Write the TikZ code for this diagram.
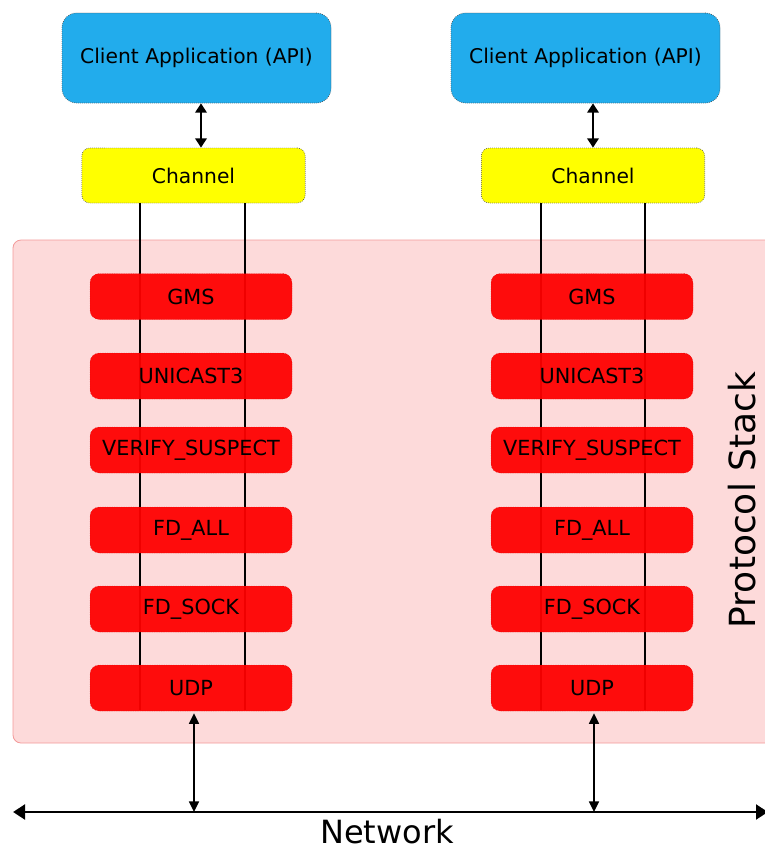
\documentclass[tikz,border=0pt]{standalone}
\usepackage{fontspec}
\setmainfont{DejaVu Sans}
\usetikzlibrary{arrows.meta}
\definecolor{apiblue}{HTML}{22ACEC}
\definecolor{chanyellow}{HTML}{FFFF00}
\definecolor{layerred}{HTML}{FF0000}
\definecolor{stackpink}{HTML}{FDDADA}
\definecolor{stackedge}{HTML}{F39A9A}
\definecolor{dotedge}{HTML}{4A4A4A}
\begin{document}
\begin{tikzpicture}[x=0.75pt,y=-0.75pt,
  apibox/.style={draw=dotedge,densely dotted,line width=0.5pt,fill=apiblue,
    rounded corners=11pt,minimum width=201.75pt,minimum height=67.5pt,
    font=\fontsize{15.2}{18}\selectfont,inner sep=0pt},
  chanbox/.style={draw=dotedge,densely dotted,line width=0.5pt,fill=chanyellow,
    rounded corners=6pt,minimum width=167.5pt,minimum height=41.25pt,
    font=\fontsize{15.2}{18}\selectfont,inner sep=0pt},
  layerbox/.style={draw=layerred!80!black,densely dotted,line width=0.3pt,
    fill=layerred,fill opacity=0.94,text opacity=1,
    rounded corners=7pt,minimum width=151.5pt,minimum height=34.5pt,
    font=\fontsize{15.6}{18}\selectfont,inner sep=0pt},
  wire/.style={line width=0.8pt,black},
  apiarrow/.style={line width=2pt,{Triangle[length=7pt,width=8.5pt]}-{Triangle[length=7pt,width=8.5pt]}},
  netarrow/.style={line width=1.1pt,{Triangle[length=8pt,width=7.5pt]}-{Triangle[length=8pt,width=7.5pt]}},
  busarrow/.style={line width=2.2pt,{Triangle[length=9pt,width=11pt]}-{Triangle[length=9pt,width=11pt]}}
]
\useasboundingbox (0,0) rectangle (765,851);

% protocol stack background
\path[draw=stackedge,line width=0.6pt,fill=stackpink,rounded corners=6pt]
  (13,240) rectangle (790,743);
\node[rotate=90,font=\fontsize{27}{32}\selectfont] (stacklbl) at (742,500) {Protocol Stack};

% client applications and channels
\node[apibox] (apiL) at (196.5,58) {Client Application (API)};
\node[apibox] (apiR) at (585.5,58) {Client Application (API)};
\node[chanbox] (chanL) at (193.5,175.5) {Channel};
\node[chanbox] (chanR) at (593,175.5) {Channel};

% wire positions
\coordinate (wL1) at (140,0);
\coordinate (wL2) at (245,0);
\coordinate (wR1) at (541,0);
\coordinate (wR2) at (645,0);
\coordinate (aL) at (201,0);
\coordinate (aR) at (593,0);
\coordinate (nL) at (194,0);
\coordinate (nR) at (594,0);
\coordinate (wireEnd) at (0,710);

% wires from channel down through the stack (layers sit on top)
\draw[wire] (chanL.south -| wL1) -- (wireEnd -| wL1);
\draw[wire] (chanL.south -| wL2) -- (wireEnd -| wL2);
\draw[wire] (chanR.south -| wR1) -- (wireEnd -| wR1);
\draw[wire] (chanR.south -| wR2) -- (wireEnd -| wR2);

\foreach \side/\xx in {L/191,R/592}{
  \node[layerbox] (gms\side) at (\xx,296.5) {GMS};
  \node[layerbox] (uni\side) at (\xx,376) {UNICAST3};
  \node[layerbox] (ver\side) at (\xx,450) {VERIFY\_SUSPECT};
  \node[layerbox] (fda\side) at (\xx,530) {FD\_ALL};
  \node[layerbox] (fds\side) at (\xx,609) {FD\_SOCK};
  \node[layerbox] (udp\side) at (\xx,688) {UDP};
}

% application <-> channel
\draw[apiarrow] (apiL.south -| aL) -- (chanL.north -| aL);
\draw[apiarrow] (apiR.south -| aR) -- (chanR.north -| aR);

% network bus
\coordinate (netW) at (13,812);
\coordinate (netE) at (768,812);
\draw[busarrow] (netW) -- (netE);
\node[font=\fontsize{24}{28}\selectfont,inner sep=1pt] (netlbl) at (387,832) {Network};

% UDP <-> network
\draw[netarrow] ([yshift=-1.5pt]udpL.south -| nL) -- (netW -| nL);
\draw[netarrow] ([yshift=-1.5pt]udpR.south -| nR) -- (netW -| nR);
\end{tikzpicture}
\end{document}
